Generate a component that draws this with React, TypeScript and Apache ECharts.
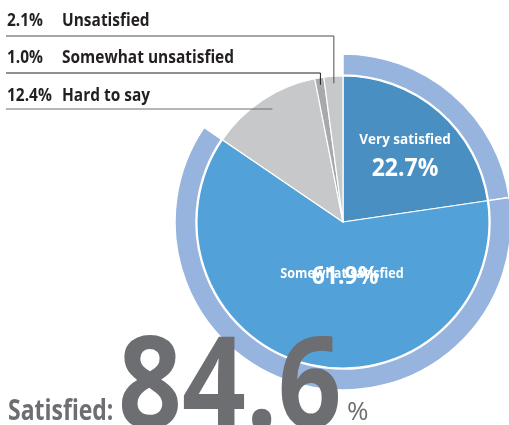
import React, { useEffect, useRef } from 'react';
import * as echarts from 'echarts';

const categories = ['Very satisfied', 'Somewhat satisfied', 'Hard to say', 'Somewhat unsatisfied', 'Unsatisfied'];
const values = [22.7, 61.9, 12.4, 1.0, 2.1];
const colors = ['#4a8fc2', '#52a1d9', '#c7c8ca', '#a7a9ac', '#c7c8ca'];
const ringValues = [22.7, 61.9];
const satisfiedTotal = '84.6';
const satisfiedLabel = 'Satisfied:';
const sideLabelOrder = [4, 3, 2];

const CX = 343;
const CY = 222;
const R = 146;
const FONT = 'Open Sans';

export default function App() {
  const ref = useRef<HTMLDivElement>(null);
  useEffect(() => {
    if (!ref.current) return;
    const chart = echarts.init(ref.current, null, { renderer: 'svg' });
    const total = values.reduce((a, b) => a + b, 0);
    const midAngle = (i: number) => {
      let cum = 0;
      for (let k = 0; k < i; k++) cum += values[k];
      return ((cum + values[i] / 2) / total) * Math.PI * 2;
    };
    const rowY = [36, 73, 109];
    const textY = [19.5, 56.5, 94.5];
    const lineColors = ['#4d4d4d', '#231f20', '#6d6e71'];
    const graphics: any[] = [];
    sideLabelOrder.forEach((idx, j) => {
      const pct = values[idx].toFixed(1) + '%';
      graphics.push({
        type: 'text', x: 7, y: textY[j], scaleX: 0.91,
        style: { text: pct, fill: '#231f20', font: `bold 17px "${FONT}"`, align: 'left', verticalAlign: 'middle', textAlign: 'left', textVerticalAlign: 'middle' },
      });
      graphics.push({
        type: 'text', x: 62, y: textY[j], scaleX: 0.91,
        style: { text: categories[idx], fill: '#231f20', font: `bold 17px "${FONT}"`, align: 'left', verticalAlign: 'middle', textAlign: 'left', textVerticalAlign: 'middle' },
      });
      const th = midAngle(idx);
      let pts: number[][];
      if (j < 2) {
        const rho = R - 7;
        const ex = CX + rho * Math.sin(th);
        const ey = CY - rho * Math.cos(th);
        pts = [[6, rowY[j]], [ex, rowY[j]], [ex, ey]];
      } else {
        const rho = (CY - rowY[j]) / Math.cos(th);
        const ex = CX + rho * Math.sin(th) + 4;
        pts = [[6, rowY[j]], [ex, rowY[j]]];
      }
      graphics.push({
        type: 'polyline', shape: { points: pts },
        style: { stroke: lineColors[j], lineWidth: 1, fill: null },
        z: 10,
      });
    });
    // inner labels
    graphics.push({
      type: 'text', x: 405, y: 138, scaleX: 0.9, z: 20,
      style: { text: categories[0], fill: '#ffffff', font: `bold 15px "${FONT}"`, align: 'center', verticalAlign: 'middle', textAlign: 'center', textVerticalAlign: 'middle' },
    });
    graphics.push({
      type: 'text', x: 405, y: 166, scaleX: 0.92, z: 20,
      style: { text: values[0].toFixed(1) + '%', fill: '#ffffff', font: `bold 25px "${FONT}"`, align: 'center', verticalAlign: 'middle', textAlign: 'center', textVerticalAlign: 'middle' },
    });
    graphics.push({
      type: 'text', x: 342, y: 273, scaleX: 0.9, z: 20,
      style: { text: categories[1], fill: '#ffffff', font: `bold 14px "${FONT}"`, align: 'center', verticalAlign: 'middle', textAlign: 'center', textVerticalAlign: 'middle' },
    });
    graphics.push({
      type: 'text', x: 345, y: 274, scaleX: 0.92, z: 21,
      style: { text: values[1].toFixed(1) + '%', fill: '#ffffff', font: `bold 25px "${FONT}"`, align: 'center', verticalAlign: 'middle', textAlign: 'center', textVerticalAlign: 'middle' },
    });
    // Satisfied total
    graphics.push({
      type: 'text', x: 8, y: 410, scaleX: 0.82, z: 30,
      style: { text: satisfiedLabel, fill: '#6d6e71', font: `bold 28px "${FONT}"`, align: 'left', verticalAlign: 'middle', textAlign: 'left', textVerticalAlign: 'middle' },
    });
    graphics.push({
      type: 'text', x: 118, y: 379, scaleX: 0.88, z: 30,
      style: { text: satisfiedTotal, fill: '#6d6e71', font: `bold 127px "${FONT}"`, align: 'left', verticalAlign: 'middle', textAlign: 'left', textVerticalAlign: 'middle' },
    });
    graphics.push({
      type: 'text', x: 347, y: 410, z: 30,
      style: { text: '%', fill: '#6d6e71', font: `26px "${FONT}"`, align: 'left', verticalAlign: 'middle', textAlign: 'left', textVerticalAlign: 'middle' },
    });

    chart.setOption({
      animation: false,
      graphic: graphics,
      series: [
        {
          type: 'pie',
          center: [CX, CY],
          radius: [147, 168],
          startAngle: 90,
          clockwise: true,
          silent: true,
          label: { show: false },
          labelLine: { show: false },
          data: [
            ...ringValues.map((v, i) => ({ value: v, name: 'ring' + i, itemStyle: { color: '#96b4dd', borderColor: '#ffffff', borderWidth: 1.5 } })),
            { value: values.slice(2).reduce((a, b) => a + b, 0), name: 'ringRest', itemStyle: { color: 'rgba(0,0,0,0)', borderWidth: 0 } },
          ],
        },
        {
          type: 'pie',
          center: [CX, CY],
          radius: [0, R],
          startAngle: 90,
          clockwise: true,
          silent: true,
          label: { show: false },
          labelLine: { show: false },
          itemStyle: { borderColor: '#ffffff', borderWidth: 1.2 },
          data: values.map((v, i) => ({ value: v, name: categories[i], itemStyle: { color: colors[i] } })),
        },
      ],
    });
    return () => chart.dispose();
  }, []);
  return <div ref={ref} style={{ position: 'fixed', left: 0, top: 0, width: 509, height: 425 }} />;
}
